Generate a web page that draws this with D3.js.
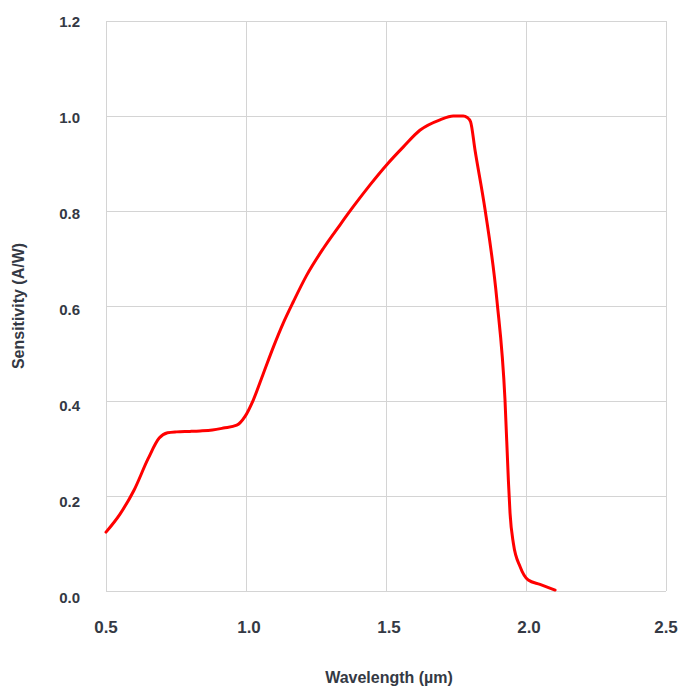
<!DOCTYPE html>
<html><head><meta charset="utf-8">
<script src="https://cdn.jsdelivr.net/npm/d3@7"></script>
<style>body{margin:0;background:#fff}svg{display:block}</style>
</head><body>
<script>
const wavelength = [0.5,0.55,0.6,0.65,0.69,0.72,0.752,0.8,0.836,0.88,0.919,0.967,0.996,1.026,1.062,1.098,1.133,1.169,1.217,1.276,1.336,1.383,1.443,1.502,1.562,1.621,1.693,1.74,1.776,1.79,1.802,1.818,1.854,1.896,1.925,1.937,1.943,1.955,1.979,2.008,2.05,2.104];
const sensitivity = [0.124,0.162,0.212,0.278,0.322,0.333,0.335,0.336,0.337,0.339,0.343,0.349,0.367,0.402,0.458,0.514,0.564,0.609,0.665,0.721,0.771,0.809,0.855,0.897,0.935,0.970,0.992,1.0,1.0,0.997,0.988,0.928,0.802,0.613,0.402,0.234,0.164,0.1,0.051,0.023,0.014,0.002];
const xTicks = [0.5,1.0,1.5,2.0,2.5];
const yTicks = [0.0,0.2,0.4,0.6,0.8,1.0,1.2];

const W=683,H=686;
const svg=d3.select("body").append("svg").attr("width",W).attr("height",H);
const x=d3.scaleLinear().domain([0.5,2.5]).range([106,666]);
const y=d3.scaleLinear().domain([0,1.2]).range([591,21]);
const yLab=d3.scaleLinear().domain([0,1.2]).range([598,22]);
const font="'Liberation Sans', Helvetica, Arial, sans-serif";
const tc="#343944";

const g=svg.append("g");
g.selectAll(".gy").data(yTicks).enter().append("line")
 .attr("x1",x(0.5)).attr("x2",x(2.5)).attr("y1",d=>y(d)).attr("y2",d=>y(d))
 .attr("stroke","#d4d4d4").attr("stroke-width",1).attr("shape-rendering","crispEdges");
g.selectAll(".gx").data(xTicks).enter().append("line")
 .attr("x1",d=>x(d)).attr("x2",d=>x(d)).attr("y1",y(0)).attr("y2",y(1.2))
 .attr("stroke","#d4d4d4").attr("stroke-width",1).attr("shape-rendering","crispEdges");

svg.selectAll(".yl").data(yTicks).enter().append("text")
 .attr("x",80).attr("y",d=>yLab(d)).attr("dy","0.35em").attr("text-anchor","end")
 .attr("font-family",font).attr("font-weight","bold").attr("font-size",15).attr("fill",tc)
 .text(d=>d.toFixed(1));
const xLabPos=d3.scaleLinear().domain([0.5,2.5]).range([106,666]);
svg.selectAll(".xl").data(xTicks).enter().append("text")
 .attr("x",d=>xLabPos(d)+(d>0.5&&d<2.5?3:0)).attr("y",633).attr("text-anchor","middle")
 .attr("font-family",font).attr("font-weight","bold").attr("font-size",17).attr("fill",tc)
 .text(d=>d.toFixed(1));

svg.append("text").attr("x",389).attr("y",683).attr("text-anchor","middle")
 .attr("font-family",font).attr("font-weight","bold").attr("font-size",16).attr("fill",tc)
 .text("Wavelength (µm)");
svg.append("text").attr("transform","translate(24,306) rotate(-90)").attr("text-anchor","middle")
 .attr("font-family",font).attr("font-weight","bold").attr("font-size",16).attr("fill",tc)
 .text("Sensitivity (A/W)");

const data=wavelength.map((w,i)=>[w,sensitivity[i]]);
svg.append("path").datum(data)
 .attr("d",d3.line().x(d=>x(d[0])).y(d=>y(d[1])).curve(d3.curveMonotoneX))
 .attr("fill","none").attr("stroke","#ff0000").attr("stroke-width",3).attr("stroke-linecap","round");
</script>
</body></html>
